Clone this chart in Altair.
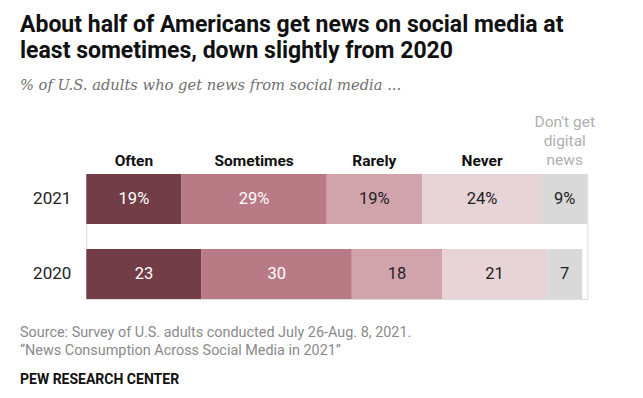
import altair as alt
import pandas as pd

years = ["2021", "2020"]
categories = ["Often", "Sometimes", "Rarely", "Never", "Don't get digital news"]
values_2021 = [19, 29, 19, 24, 9]
values_2020 = [23, 30, 18, 21, 7]
labels_2021 = ["19%", "29%", "19%", "24%", "9%"]
labels_2020 = ["23", "30", "18", "21", "7"]
colors = ["#733d47", "#b87a84", "#d1a4ac", "#e8d3d7", "#d9d9d9"]
label_colors = ["#ffffff", "#ffffff", "#222222", "#222222", "#222222"]
header_texts = ["Often", "Sometimes", "Rarely", "Never", "Don't get\ndigital\nnews"]

title_lines = ["About half of Americans get news on social media at",
               "least sometimes, down slightly from 2020"]
subtitle = "% of U.S. adults who get news from social media ..."
source_lines = ["Source: Survey of U.S. adults conducted July 26-Aug. 8, 2021.",
                "\u201cNews Consumption Across Social Media in 2021\u201d"]
brand = "PEW RESEARCH CENTER"

rows = []
for y, vals, labs in [("2021", values_2021, labels_2021), ("2020", values_2020, labels_2020)]:
    for i, (c, v, l) in enumerate(zip(categories, vals, labs)):
        rows.append({"year": y, "cat": c, "order": i, "value": v, "label": l,
                     "tcolor": label_colors[i], "header": header_texts[i]})
df = pd.DataFrame(rows)

W, H = 501, 125
FONT = "Roboto"

base = alt.Chart(df).transform_stack(
    stack="value", groupby=["year"], sort=[alt.SortField("order")], as_=["x0", "x1"]
).transform_calculate(mid="(datum.x0 + datum.x1) / 2")

xs = alt.Scale(domain=[0, 100], nice=False, zero=True)
ys = alt.Scale(domain=years, paddingInner=1/3, paddingOuter=0)

bars = base.mark_bar(strokeWidth=0).encode(
    x=alt.X("x0:Q", scale=xs, axis=None),
    x2="x1:Q",
    y=alt.Y("year:N", scale=ys, axis=None),
    color=alt.Color("cat:N", scale=alt.Scale(domain=categories, range=colors), legend=None),
)

vals = base.mark_text(font=FONT, fontSize=16.5, baseline="middle", align="center").encode(
    x=alt.X("mid:Q", scale=xs),
    y=alt.Y("year:N", scale=ys),
    text="label:N",
    color=alt.Color("tcolor:N", scale=None),
)

year_lbl = alt.Chart(pd.DataFrame({"year": years})).mark_text(
    font=FONT, fontSize=17, align="right", baseline="middle", color="#222222", dx=-15
).encode(x=alt.value(0), y=alt.Y("year:N", scale=ys), text="year:N")

headers = base.transform_filter("datum.year == '2021' && datum.order < 4").mark_text(
    font=FONT, fontSize=15.5, fontWeight="bold", align="center", baseline="alphabetic", color="#111111"
).encode(x=alt.X("mid:Q", scale=xs), y=alt.value(-8), text="header:N")

header_dg = base.transform_filter("datum.year == '2021' && datum.order == 4").mark_text(
    font=FONT, fontSize=15.5, align="center", baseline="alphabetic", color="#b0b0b0",
    lineBreak="\n", lineHeight=19
).encode(x=alt.X("mid:Q", scale=xs), y=alt.value(-47), text="header:N")

def txt(s, x, y, **kw):
    return alt.Chart(pd.DataFrame({"t": [s]})).mark_text(align="left", baseline="alphabetic", **kw).encode(
        x=alt.value(x), y=alt.value(y), text="t:N")

L = 78.3
X0 = 20 - 8 - L
t1 = txt(title_lines[0], X0, 32 - 174, font=FONT, fontSize=23, fontWeight="bold", color="#111111")
t2 = txt(title_lines[1], X0, 58 - 174, font=FONT, fontSize=23, fontWeight="bold", color="#111111")
st = txt(subtitle, X0, 90 - 174, font="DejaVu Serif", fontSize=14.7, fontStyle="italic", color="#707070")
s1 = txt(source_lines[0], X0, 337 - 174, font=FONT, fontSize=14.4, color="#8a8a8a")
s2 = txt(source_lines[1], X0, 355 - 174, font=FONT, fontSize=14.4, color="#8a8a8a")
br = txt(brand, X0, 384 - 174, font=FONT, fontSize=14, fontWeight="bold", color="#111111")

chart = alt.layer(bars, vals, year_lbl, headers, header_dg, t1, t2, st, s1, s2, br).properties(
    width=W, height=H,
    autosize=alt.AutoSizeParams(type="none"),
    padding={"left": L, "top": 166, "right": 627 - L - W, "bottom": 382 - 166 - H},
).configure_view(stroke=None).configure(background="#ffffff")

chart.save("out.html", embed_options={"renderer": "svg", "actions": False})
